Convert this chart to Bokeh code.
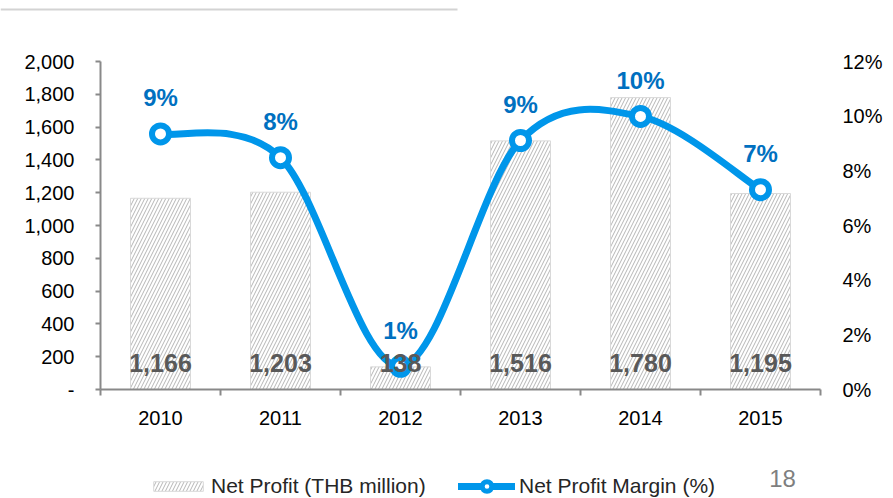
from bokeh.plotting import figure
from bokeh.layouts import column
from bokeh.models import (Range1d, LinearAxis, FixedTicker, NumeralTickFormatter, PrintfTickFormatter,
                          ColumnDataSource, Legend, LegendItem, Label)
from bokeh.core.properties import value
from bokeh.embed import file_html
from bokeh.resources import INLINE

# ---- data ----
years = ["2010", "2011", "2012", "2013", "2014", "2015"]
net_profit = [1166, 1203, 138, 1516, 1780, 1195]
margin_pct = [9.35, 8.48, 0.85, 9.11, 9.99, 7.31]
profit_labels = ["1,166", "1,203", "138", "1,516", "1,780", "1,195"]
margin_labels = ["9%", "8%", "1%", "9%", "10%", "7%"]
left_ticks = [0, 200, 400, 600, 800, 1000, 1200, 1400, 1600, 1800, 2000]
right_ticks = [0, 2, 4, 6, 8, 10, 12]

FONT = "Liberation Sans"
BLUE = "#0096EA"
LABEL_BLUE = "#0070C0"
GREY_TXT = "#595959"
AXIS = "#898989"
W = 893

xs = [i + 0.5 for i in range(len(years))]
bounds = list(range(len(years) + 1))

# ================= top strip (slide rule line) =================
p_top = figure(width=W, height=20, output_backend="svg", toolbar_location=None,
               x_range=Range1d(0, W), y_range=Range1d(0, 20), min_border=0,
               x_axis_type=None, y_axis_type=None, frame_align=False)
p_top.outline_line_color = None
p_top.grid.visible = False
p_top.segment(x0=[0], y0=[11], x1=[457], y1=[11], line_color="#D3D3D3", line_width=2)

# ================= main chart =================
p = figure(width=W, height=420, output_backend="svg", toolbar_location=None,
           x_range=Range1d(0, len(years)), y_range=Range1d(0, 2000),
           min_border_left=100, min_border_right=73, min_border_top=41, min_border_bottom=51,
           x_axis_type=None, y_axis_type=None, frame_align=False)
p.extra_y_ranges = {"pct": Range1d(0, 12)}
p.outline_line_color = None
p.grid.visible = False
p.background_fill_color = "white"
p.border_fill_color = "white"

xaxis = LinearAxis(ticker=FixedTicker(ticks=xs, minor_ticks=bounds),
                   major_label_overrides={x: y for x, y in zip(xs, years)},
                   major_tick_line_color=None, major_tick_out=5, major_tick_in=0,
                   minor_tick_out=6, minor_tick_in=0, minor_tick_line_color=AXIS, minor_tick_line_width=2,
                   axis_line_color=AXIS, axis_line_width=2,
                   major_label_text_font=FONT, major_label_text_font_size="20px",
                   major_label_standoff=15, major_label_text_color="#000000")
p.add_layout(xaxis, "below")

yaxis = LinearAxis(ticker=FixedTicker(ticks=left_ticks, minor_ticks=[]),
                   formatter=NumeralTickFormatter(format="0,0"),
                   major_label_overrides={0: "-"},
                   major_tick_out=5, major_tick_in=0, major_tick_line_color=AXIS, major_tick_line_width=2,
                   minor_tick_line_color=None,
                   axis_line_color=AXIS, axis_line_width=2,
                   major_label_text_font=FONT, major_label_text_font_size="20px",
                   major_label_standoff=21, major_label_text_color="#000000")
p.add_layout(yaxis, "left")

raxis = LinearAxis(y_range_name="pct", ticker=FixedTicker(ticks=right_ticks, minor_ticks=[]),
                   formatter=PrintfTickFormatter(format="%d%%"),
                   major_tick_out=0, major_tick_in=0, major_tick_line_color=None,
                   minor_tick_line_color=None, axis_line_color=None,
                   major_label_text_font=FONT, major_label_text_font_size="20px",
                   major_label_standoff=22, major_label_text_color="#000000")
p.add_layout(raxis, "right")

src = ColumnDataSource(dict(x=xs, profit=net_profit, margin=margin_pct,
                            plab=profit_labels, mlab=margin_labels))
BAR_STYLE = dict(fill_color="white", line_color="#D9D9D9", line_width=1,
                 hatch_pattern="/", hatch_color="#ADADAD", hatch_weight=0.9, hatch_scale=7)
p.vbar(x="x", top="profit", width=0.5, source=src, **BAR_STYLE)

# smoothed margin line: Bezier segments through the data points
n = len(xs)
def pt(i):
    i = max(0, min(n - 1, i))
    return xs[i], margin_pct[i]
bz = dict(x0=[], y0=[], x1=[], y1=[], cx0=[], cy0=[], cx1=[], cy1=[])
for i in range(n - 1):
    xa, ya = pt(i - 1)
    xb, yb = pt(i)
    xc, yc = pt(i + 1)
    xd, yd = pt(i + 2)
    bz["x0"].append(xb); bz["y0"].append(yb)
    bz["x1"].append(xc); bz["y1"].append(yc)
    bz["cx0"].append(xb + (xc - xa) / 6); bz["cy0"].append(yb + (yc - ya) / 6)
    bz["cx1"].append(xc - (xd - xb) / 6); bz["cy1"].append(yc - (yd - yb) / 6)
p.bezier(x0="x0", y0="y0", x1="x1", y1="y1", cx0="cx0", cy0="cy0", cx1="cx1", cy1="cy1",
         source=ColumnDataSource(bz), line_color=BLUE, line_width=7, line_cap="round",
         y_range_name="pct")
p.scatter(x="x", y="margin", source=src, y_range_name="pct", size=17,
          fill_color="white", line_color=BLUE, line_width=6)

p.text(x="x", y=0, text="plab", source=src, text_font=value(FONT), text_font_style="bold",
       text_font_size="25px", text_color=GREY_TXT, text_align="center", text_baseline="middle",
       y_offset=-27)
p.text(x="x", y="margin", text="mlab", source=src, y_range_name="pct", text_font=value(FONT),
       text_font_style="bold", text_font_size="24px", text_color=LABEL_BLUE,
       text_align="center", text_baseline="middle", y_offset=-36)

# ================= bottom strip (legend + page number) =================
p_bot = figure(width=W, height=58, output_backend="svg", toolbar_location=None,
               x_range=Range1d(0, W), y_range=Range1d(0, 58), min_border=0,
               x_axis_type=None, y_axis_type=None, frame_align=False)
p_bot.outline_line_color = None
p_bot.grid.visible = False
nan = float("nan")
lg_bar = p_bot.vbar(x=[nan], top=[nan], width=1, **BAR_STYLE)
lg_line = p_bot.line(x=[nan], y=[nan], line_color=BLUE, line_width=7, line_cap="round")
lg_mark = p_bot.scatter(x=[nan], y=[nan], size=9, fill_color="white", line_color=BLUE, line_width=5)

common = dict(orientation="horizontal", padding=0, margin=0, border_line_color=None,
              background_fill_alpha=0, label_text_font=FONT, label_text_font_size="21px",
              label_text_color="#262626", label_height=24)
leg1 = Legend(items=[LegendItem(label="Net Profit (THB million)", renderers=[lg_bar])],
              location=(147, 0), glyph_width=62, glyph_height=12, label_standoff=2, **common)
leg2 = Legend(items=[LegendItem(label="Net Profit Margin (%)", renderers=[lg_line, lg_mark])],
              location=(458, 0), glyph_width=57, glyph_height=24, label_standoff=4, **common)
p_bot.add_layout(leg1, "center")
p_bot.add_layout(leg2, "center")
p_bot.add_layout(Label(x=782, y=20, text="18", text_font=FONT, text_font_size="24px",
                       text_color="#7F7F7F", text_align="center", text_baseline="middle"))

layout = column(p_top, p, p_bot, spacing=0)
open("out.html", "w").write(file_html(layout, INLINE))
